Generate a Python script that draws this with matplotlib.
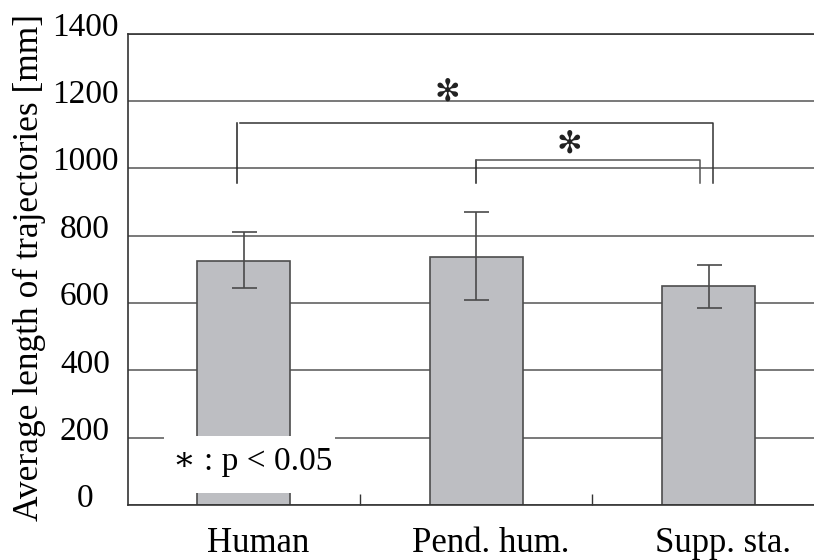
import matplotlib
matplotlib.use("Agg")
import matplotlib.pyplot as plt
import matplotlib.transforms as mtransforms
from matplotlib.patches import Rectangle

categories = ["Human", "Pend. hum.", "Supp. sta."]
means = [725, 737, 650]
err_upper = [812, 870, 713]
err_lower = [645, 608, 585]
yticks = [0, 200, 400, 600, 800, 1000, 1200, 1400]
ylabel = "Average length of trajectories [mm]"
legend_text = "∗ : p < 0.05"
star = "✻"

plt.rcParams['font.family'] = ['Liberation Serif', 'DejaVu Serif', 'DejaVu Sans']

fig = plt.figure(figsize=(8.14, 5.6), dpi=100)
ax = fig.add_axes([128/814, 55/560, 686/814, 471.5/560])

x = list(range(len(categories)))
ax.bar(x, means, width=0.4, color="#bdbec2", edgecolor="#4d4d4d", linewidth=1.2, zorder=2)
yerr = [[m - lo for m, lo in zip(means, err_lower)], [hi - m for m, hi in zip(means, err_upper)]]
ax.errorbar(x, means, yerr=yerr, fmt="none", ecolor="#4a4a4a", elinewidth=1.2, capsize=9, capthick=1.2, zorder=3)

ax.set_xlim(-0.497, 2.453)
ax.set_ylim(0, 1400)
ax.set_yticks(yticks)
ax.set_yticklabels([])
offset = mtransforms.ScaledTranslation(0, 6/100, fig.dpi_scale_trans)
for v in yticks:
    ax.text(-0.0627, v, str(v), transform=ax.get_yaxis_transform() + offset,
            ha="center", va="center", fontsize=24)
ax.yaxis.grid(True, color="#555555", linewidth=1.1, zorder=0)
ax.set_axisbelow(True)
ax.tick_params(axis="y", length=0)
ax.set_xticks([0.5, 1.5])
ax.set_xticklabels([])
ax.tick_params(axis="x", direction="in", length=8, color="#333333", width=1)
for i, c in enumerate(categories):
    ax.text(i + 0.063, -0.0997, c, transform=ax.get_xaxis_transform(), ha="center", va="baseline", fontsize=25)

for s in ["left", "bottom", "top"]:
    ax.spines[s].set_color("#333333")
    ax.spines[s].set_linewidth(1.2)
ax.spines["right"].set_visible(False)

ax.text(-0.1443, 0.5037, ylabel, transform=ax.transAxes, rotation=90, ha="center", va="center", fontsize=25.5)

# significance brackets
ax.plot([-0.028, -0.028], [955, 1135], color="#222222", lw=1.1, zorder=4)
ax.plot([-0.015, 2.02, 2.02], [1134, 1134, 955], color="#333333", lw=1.1, zorder=4)
ax.plot([0.998, 0.998], [955, 1024], color="#222222", lw=1.1, zorder=4)
ax.plot([1.005, 1.962, 1.962], [1024, 1024, 955], color="#555555", lw=1.1, zorder=4)
ax.text(0.876, 1226, star, ha="center", va="center", fontsize=22, family="DejaVu Sans", color="#222222", zorder=5)
ax.text(1.4, 1071, star, ha="center", va="center", fontsize=22, family="DejaVu Sans", color="#222222", zorder=5)

# significance legend box
ax.add_patch(Rectangle((-0.342, 36), 0.736, 170, facecolor="white", edgecolor="none", zorder=6))
ax.text(0.041, 104, legend_text, ha="center", va="baseline", fontsize=24, zorder=7)

fig.savefig("out.png", dpi=100)
